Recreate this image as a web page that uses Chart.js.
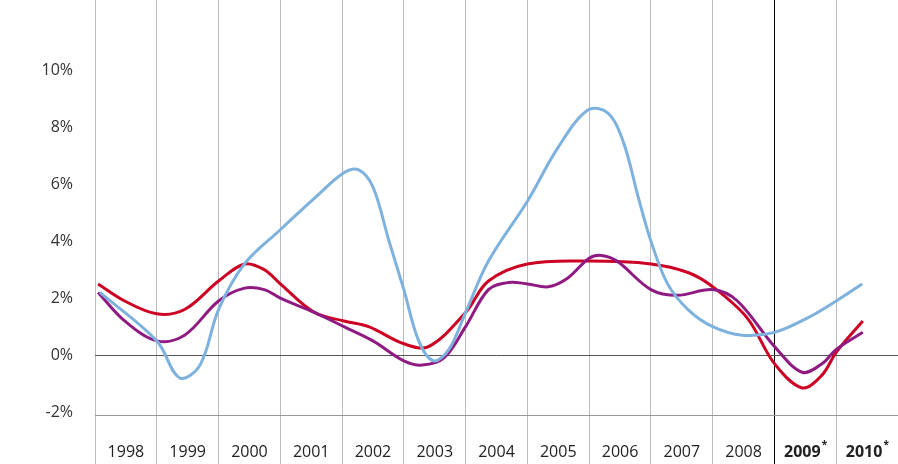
<!DOCTYPE html><html><head><style>body{margin:0;background:#fff}#w{width:898px;height:464px}</style>
<script src="https://cdn.jsdelivr.net/npm/chart.js@4"></script></head><body><div id="w"><canvas id="c"></canvas></div>
<script>
const categories=['1998','1999','2000','2001','2002','2003','2004','2005','2006','2007','2008','2009*','2010*'];
const yTicks=[-2,0,2,4,6,8,10];
const blueX=[1998.08,1999.0,1999.37,1999.7,2000.0,2000.42,2001.0,2001.55,2002.03,2002.27,2002.5,2002.76,2003.0,2003.24,2003.48,2003.73,2004.0,2004.37,2005.0,2005.5,2005.98,2006.3,2006.55,2006.8,2007.0,2007.27,2007.6,2008.0,2008.48,2009.0,2009.53,2010.0,2010.42];
const blueY=[2.2,0.5,-0.8,-0.35,1.6,3.2,4.4,5.5,6.4,6.5,5.9,4.0,2.3,0.5,-0.2,0.2,1.5,3.3,5.4,7.3,8.6,8.5,7.5,5.5,4.0,2.5,1.6,1.0,0.7,0.8,1.3,1.9,2.5];
const redX=[1998.05,1998.48,1999.0,1999.45,2000.0,2000.42,2000.74,2001.0,2001.55,2002.03,2002.43,2003.0,2003.4,2004.0,2004.37,2005.0,2006.0,2007.0,2007.6,2008.0,2008.56,2009.0,2009.45,2009.77,2010.0,2010.43];
const redY=[2.5,1.9,1.45,1.6,2.6,3.2,3.0,2.5,1.5,1.2,1.0,0.4,0.3,1.5,2.6,3.2,3.3,3.2,2.9,2.4,1.3,-0.3,-1.15,-0.7,0.1,1.2];
const purX=[1998.05,1998.48,1999.0,1999.45,2000.0,2000.42,2000.74,2001.0,2001.55,2002.03,2002.5,2003.0,2003.3,2003.65,2004.0,2004.37,2004.7,2005.0,2005.34,2005.65,2006.0,2006.2,2006.45,2007.0,2007.43,2008.0,2008.4,2009.0,2009.45,2009.77,2010.0,2010.43];
const purY=[2.2,1.2,0.5,0.7,1.9,2.35,2.3,2.0,1.5,1.0,0.5,-0.2,-0.35,-0.1,1.0,2.3,2.55,2.5,2.4,2.7,3.4,3.5,3.3,2.3,2.1,2.3,1.9,0.3,-0.6,-0.3,0.2,0.8];
const pts=(xs,ys)=>xs.map((x,i)=>({x:x,y:ys[i]}));
const ds=(xs,ys,c)=>({data:pts(xs,ys),borderColor:c,borderWidth:3,pointRadius:0,tension:0.35,xAxisID:'x2',fill:false});
const labelPlugin={id:'lbl',afterDraw(ch){const s=ch.scales.x,ctx=ch.ctx;ctx.save();ctx.textAlign='center';ctx.textBaseline='middle';ctx.fillStyle='#222';
 categories.forEach((t,i)=>{const b=i>=11;const x=s.getPixelForValue(i);const y=452;
  if(b){const base=t.replace('*','');ctx.font='bold 16px "Open Sans"';const w=ctx.measureText(base).width;ctx.textAlign='left';ctx.fillText(base,x-w/2-3,y);ctx.font='bold 10px "Open Sans"';ctx.fillText('*',x+w/2-2,y-7);ctx.textAlign='center';}
  else{ctx.font='16px "Open Sans"';ctx.fillText(t,x,y);}});ctx.restore();}};
new Chart(document.getElementById('c'),{type:'line',data:{labels:categories,datasets:[ds(blueX,blueY,'#7db1de'),ds(purX,purY,'#8f1a82'),ds(redX,redY,'#cc0022')]},
plugins:[labelPlugin],
options:{responsive:true,maintainAspectRatio:false,animation:false,
layout:{padding:{left:0,right:-3,top:0,bottom:0}},
plugins:{legend:{display:false},tooltip:{enabled:false}},
scales:{
x:{type:'category',offset:true,grid:{offset:true,color:(c)=>c.index===11?'#000':'#bbb',lineWidth:1,tickLength:49},border:{color:'#999'},
 ticks:{display:false},afterFit:(a)=>{a.height=49;a.paddingLeft=0;a.paddingRight=0;}},
x2:{type:'linear',display:false,min:1998,max:2011},
y:{min:-2.1,max:12.46,afterBuildTicks:(a)=>{a.ticks=yTicks.map(v=>({value:v}));},
 grid:{drawTicks:false,color:(c)=>c.tick&&c.tick.value===0?'#555':'rgba(0,0,0,0)'},border:{display:false},
 afterFit:(a)=>{a.width=95;a.paddingTop=0;a.paddingBottom=0;},
 ticks:{padding:22,color:'#333',font:{family:'Open Sans',size:16},callback:(v)=>v+'%'}}
}}});
</script></body></html>
